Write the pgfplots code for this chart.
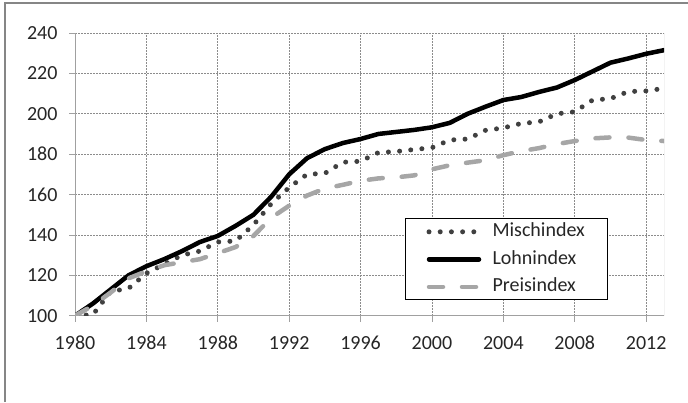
\documentclass[border=0pt]{standalone}
\usepackage{pgfplots}
\pgfplotsset{compat=1.18}
\usepackage{fontspec}
\setmainfont{Carlito}
\definecolor{miscol}{HTML}{404040}
\definecolor{preiscol}{HTML}{A6A6A6}
\definecolor{gridcol}{HTML}{8C8C8C}
\definecolor{axcol}{HTML}{A0A0A0}
\definecolor{framecol}{HTML}{868686}
\definecolor{txt}{HTML}{262626}

\pgfplotstableread{
year misch lohn preis
1980 100   100   100
1981 100.5 106   105
1982 112   113   111.5
1983 113.5 120   118.5
1984 121   124.5 122
1985 125.5 128   125
1986 130   132   126.5
1987 132   136.5 128
1988 136.5 139.5 131
1989 137   144.5 134
1990 145   150   139.5
1991 155.5 159   148.5
1992 163.5 170   154.5
1993 170   178   159.5
1994 170.5 182.5 163
1995 176   185.5 164.8
1996 176.5 187.5 166.8
1997 180.8 190   168
1998 181.3 191   168.5
1999 182.3 192   169.5
2000 183.2 193.3 172.5
2001 187   195.5 174.5
2002 187.5 200   175.8
2003 191.8 203.5 177
2004 193   206.8 179.5
2005 195.2 208.3 181.5
2006 196   210.8 183
2007 200   213   185
2008 201   216.7 186.5
2009 206.8 221   187.8
2010 207.5 225.3 188.3
2011 211   227.4 188.2
2012 211.3 229.7 187
2013 212.6 231.5 186.5
}\datatable

\begin{document}
\begin{tikzpicture}
\useasboundingbox (0pt,0pt) rectangle (688pt,402pt);
\draw[framecol, line width=2pt] (5pt,0pt) -- (5pt,399pt) -- (688pt,399pt);
\begin{axis}[
  at={(75pt,86.3pt)}, anchor=south west,
  scale only axis, width=589pt, height=282.7pt,
  xmin=1980, xmax=2013, ymin=100, ymax=240,
  xtick={1980,1984,...,2012}, ytick={100,120,...,240},
  axis x line*=bottom, axis y line*=left,
  axis line style={axcol, line width=1pt, -},
  x axis line style={-}, y axis line style={-},
  tick align=outside, major tick length=6pt,
  tick style={axcol, line width=0.8pt},
  grid=major,
  major grid style={gridcol, line width=0.6pt, dash pattern=on 2pt off 1pt},
  tick label style={font=\fontsize{20}{24}\selectfont, text=txt},
  yticklabel style={xshift=-8pt},
  xticklabel style={yshift=-11pt},
  /pgf/number format/assume math mode=true,
  /pgf/number format/1000 sep={},
  legend cell align=left,
  legend style={at={(0.5603,0.3445)}, anchor=north west, draw=black, line width=1pt,
    fill=white, font=\fontsize{20}{24}\selectfont, text=txt,
    inner xsep=21pt, inner ysep=3pt, row sep=7.5pt,
    nodes={inner xsep=2pt, inner ysep=0pt, text height=15pt, text depth=5pt},
    /tikz/every odd column/.append style={column sep=9pt}},
  legend image code/.code={\draw[#1] (0pt,0pt) -- (50pt,0pt);},
]
\addplot[miscol, line width=5pt, line cap=round, dash pattern=on 0pt off 11.2pt] table[x=year,y=misch] {\datatable};
\addlegendentry{Mischindex}
\addplot[black, line width=4.5pt, line join=round, line cap=round] table[x=year,y=lohn] {\datatable};
\addlegendentry{Lohnindex}
\addplot[preiscol, line width=4.5pt, line cap=round, line join=round, dash pattern=on 14pt off 19pt] table[x=year,y=preis] {\datatable};
\addlegendentry{Preisindex}
\draw[axcol, line width=1pt] (axis cs:2013,100) -- (axis cs:2013,240);
\end{axis}
\end{tikzpicture}
\end{document}
